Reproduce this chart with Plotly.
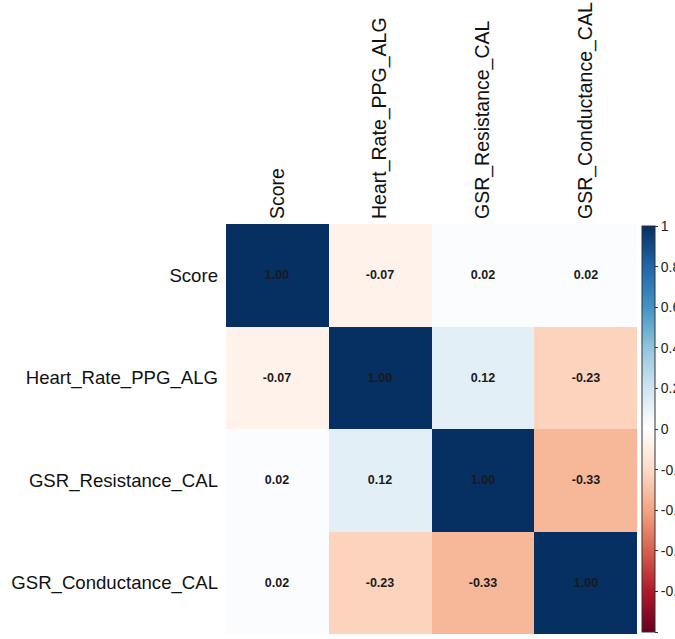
import plotly.graph_objects as go

variables = ["Score", "Heart_Rate_PPG_ALG", "GSR_Resistance_CAL", "GSR_Conductance_CAL"]

row_score = [1.00, -0.07, 0.02, 0.02]
row_heart = [-0.07, 1.00, 0.12, -0.23]
row_resistance = [0.02, 0.12, 1.00, -0.33]
row_conductance = [0.02, -0.23, -0.33, 1.00]
corr = [row_score, row_heart, row_resistance, row_conductance]

cbar_ticks = [1, 0.8, 0.6, 0.4, 0.2, 0, -0.2, -0.4, -0.6, -0.8, -1]
cbar_labels = ["1", "0.8", "0.6", "0.4", "0.2", "0", "-0.2", "-0.4", "-0.6", "-0.8", "-1"]

rdbu = [
    [0.0, "#67001F"], [0.1, "#B2182B"], [0.2, "#D6604D"], [0.3, "#F4A582"],
    [0.4, "#FDDBC7"], [0.5, "#FFFFFF"], [0.6, "#D1E5F0"], [0.7, "#92C5DE"],
    [0.8, "#4393C3"], [0.9, "#2166AC"], [1.0, "#053061"],
]

W, H = 675, 639
left, top, bottom = 226, 224, 5
plot_right = 637
paper_w = W - left

fig = go.Figure(
    go.Heatmap(
        z=corr,
        x=variables,
        y=variables,
        zmin=-1,
        zmax=1,
        colorscale=rdbu,
        texttemplate="<b>%{z:.2f}</b>",
        textfont=dict(family="Liberation Sans, Arial, sans-serif", size=12.5, color="#1a1a1a"),
        colorbar=dict(
            x=(642 - left) / paper_w,
            xanchor="left",
            xpad=0,
            y=0.5,
            yanchor="middle",
            ypad=0,
            len=0.99,
            lenmode="fraction",
            thickness=13,
            outlinewidth=1,
            outlinecolor="#333333",
            tickmode="array",
            tickvals=cbar_ticks,
            ticktext=cbar_labels,
            ticks="outside",
            ticklen=3,
            tickcolor="#333333",
            tickfont=dict(family="Liberation Sans, Arial, sans-serif", size=14, color="#222222"),
        ),
    )
)

fig.update_layout(
    width=W,
    height=H,
    margin=dict(l=left, r=0, t=top, b=bottom, autoexpand=False),
    paper_bgcolor="white",
    plot_bgcolor="white",
    font=dict(family="Liberation Sans, Arial, sans-serif", color="#111111"),
    xaxis=dict(
        domain=[0, (plot_right - left) / paper_w],
        side="top",
        tickangle=-90,
        tickfont=dict(size=19.5),
        ticklabelstandoff=4,
        showgrid=False,
        zeroline=False,
        showline=False,
        ticks="",
    ),
    yaxis=dict(
        autorange="reversed",
        tickfont=dict(size=18.6),
        ticklabelstandoff=7,
        showgrid=False,
        zeroline=False,
        showline=False,
        ticks="",
    ),
)

fig.write_html("out.html")
